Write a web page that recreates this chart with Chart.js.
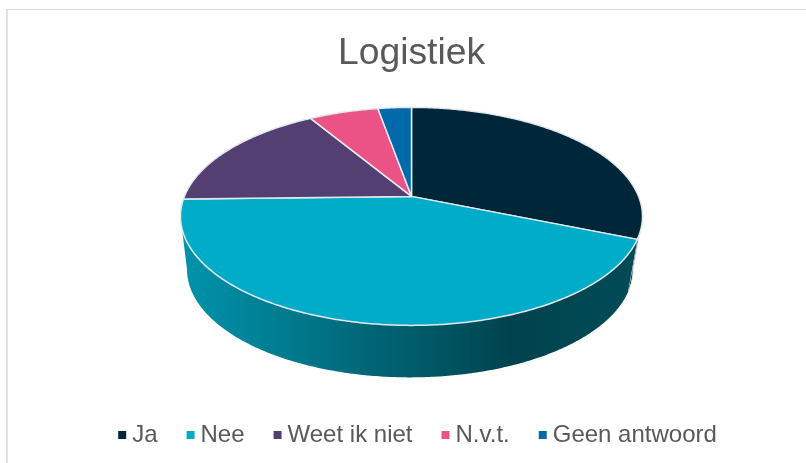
<!DOCTYPE html>
<html>
<head>
<meta charset="utf-8">
<title>Logistiek</title>
<style>
    html, body { margin: 0; background: #fff; overflow: hidden; }
    #wrap { position: relative; width: 806px; height: 463px; }
    #frame { position: absolute; left: 6px; top: 9px; right: 0; bottom: 0; border-top: 1px solid #d9d9d9; border-left: 2px solid #e2e2e2; }
    canvas { position: absolute; left: 0; top: 0; display: block; }
</style>
<script src="https://cdn.jsdelivr.net/npm/chart.js@4/dist/chart.umd.js"></script>
</head>
<body>
<div id="wrap">
    <div id="frame"></div>
    <canvas id="pieChart" width="806" height="463"></canvas>
</div>
<script>
const chartTitle = 'Logistiek';
const categories = ['Ja', 'Nee', 'Weet ik niet', 'N.v.t.', 'Geen antwoord'];
const answers = [31.2, 43.4, 16.8, 5.8, 2.8];
const sliceColors = ['#00263a', '#00acc8', '#543f72', '#eb5286', '#0069aa'];

// Look of the tilted disc, relative to the horizontal radius
const TILT = 109 / 231;        // vertical / horizontal radius of top face
const APEX_SHIFT = -20 / 109;  // perspective: slice apex sits above the ellipse centre
const TOP_OFFSET = -26;        // top face centre, relative to chart area centre
const BOTTOM_OFFSET = 27;      // bottom rim centre, relative to chart area centre
const BOTTOM_SCALE = 223 / 231;
const BOTTOM_TILT = 108 / 223;
const LEGEND_SHIFT = 6;

function shade(hex, f) {
    const n = parseInt(hex.slice(1), 16);
    const r = Math.round((n >> 16) * f);
    const g = Math.round(((n >> 8) & 255) * f);
    const b = Math.round((n & 255) * f);
    return `rgb(${r},${g},${b})`;
}

// Maps an angle on the circle to the disc in perspective (unit circle stays unit circle)
function project(angle) {
    const u = Math.cos(angle), v = Math.sin(angle);
    const d = 1 + APEX_SHIFT * v;
    return { x: u * Math.sqrt(1 - APEX_SHIFT * APEX_SHIFT) / d, y: (v + APEX_SHIFT) / d };
}

class Arc3dElement extends Chart.ArcElement {
    draw(ctx) {
        const R = this.outerRadius;
        const cx = this.x;
        const topY = this.y + TOP_OFFSET;
        const bottomY = this.y + BOTTOM_OFFSET;
        const rBottom = R * BOTTOM_SCALE;
        const color = this.options.backgroundColor;
        const steps = Math.max(2, Math.ceil((this.endAngle - this.startAngle) / 0.01));

        const rim = [];
        for (let i = 0; i <= steps; i++) {
            rim.push(project(this.startAngle + (this.endAngle - this.startAngle) * i / steps));
        }

        // side wall, only the part facing the viewer
        const front = rim.filter(p => p.y >= 0);
        if (front.length > 1) {
            const grad = ctx.createLinearGradient(cx - R, 0, cx + R, 0);
            grad.addColorStop(0, shade(color, 0.86));
            grad.addColorStop(0.72, shade(color, 0.39));
            grad.addColorStop(1, shade(color, 0.44));
            ctx.beginPath();
            front.forEach((p, i) => {
                const x = cx + p.x * R, y = topY + p.y * R * TILT;
                i ? ctx.lineTo(x, y) : ctx.moveTo(x, y);
            });
            front.slice().reverse().forEach(p => {
                ctx.lineTo(cx - 1.5 + p.x * rBottom, bottomY + p.y * rBottom * BOTTOM_TILT);
            });
            ctx.closePath();
            ctx.fillStyle = grad;
            ctx.fill();
            if (this.$context.index === 0) {
                ctx.strokeStyle = '#e8edf0';
                ctx.lineWidth = 1;
                ctx.stroke();
            }
        }

        // top face
        ctx.beginPath();
        ctx.moveTo(cx, topY + APEX_SHIFT * R * TILT);
        rim.forEach(p => ctx.lineTo(cx + p.x * R, topY + p.y * R * TILT));
        ctx.closePath();
        ctx.fillStyle = color;
        ctx.fill();
        ctx.strokeStyle = this.options.borderColor;
        ctx.lineWidth = this.options.borderWidth;
        ctx.lineJoin = 'round';
        ctx.stroke();
    }
}
Arc3dElement.id = 'arc3d';
Arc3dElement.defaults = Chart.ArcElement.defaults;
Arc3dElement.defaultRoutes = Chart.ArcElement.defaultRoutes;

class Pie3dController extends Chart.PieController {}
Pie3dController.id = 'pie3d';
Pie3dController.defaults = Object.assign({}, Chart.PieController.defaults, { dataElementType: 'arc3d' });
Pie3dController.overrides = Chart.PieController.overrides;

Chart.register(Arc3dElement, Pie3dController);

// Small square for the legend; the empty left part keeps it close to its text
function legendMarker(color) {
    const c = document.createElement('canvas');
    c.width = 18;
    c.height = 8;
    const g = c.getContext('2d');
    g.fillStyle = color;
    g.fillRect(8, 0, 8, 8);
    return c;
}

// The legend sits a little right of the title in the original
const legendNudge = {
    id: 'legendNudge',
    afterLayout(chart) {
        chart.legend.left += LEGEND_SHIFT;
        chart.legend.right += LEGEND_SHIFT;
    }
};

function initializeChart() {
    const ctx = document.getElementById('pieChart').getContext('2d');
    new Chart(ctx, {
        type: 'pie3d',
        plugins: [legendNudge],
        data: {
            labels: categories,
            datasets: [{
                data: answers,
                backgroundColor: sliceColors,
                borderColor: '#e4e9ee',
                borderWidth: 1.5
            }]
        },
        options: {
            responsive: false,
            animation: false,
            radius: 231,
            layout: { padding: { left: 17, bottom: 6 } },
            plugins: {
                tooltip: { enabled: false },
                title: {
                    display: true,
                    text: chartTitle,
                    color: '#595959',
                    font: { family: '"Liberation Sans"', size: 37.3, weight: 'normal' },
                    padding: { top: 31, bottom: 15 }
                },
                legend: {
                    position: 'bottom',
                    labels: {
                        usePointStyle: true,
                        boxWidth: 2,
                        boxHeight: 8,
                        padding: 29,
                        color: '#595959',
                        font: { family: '"Liberation Sans"', size: 24 },
                        generateLabels(chart) {
                            const items = Chart.PieController.overrides.plugins.legend.labels.generateLabels(chart);
                            return items.map((item, i) => Object.assign(item, { pointStyle: legendMarker(sliceColors[i]) }));
                        }
                    }
                }
            }
        }
    });
}

document.addEventListener('DOMContentLoaded', initializeChart);
</script>
</body>
</html>
